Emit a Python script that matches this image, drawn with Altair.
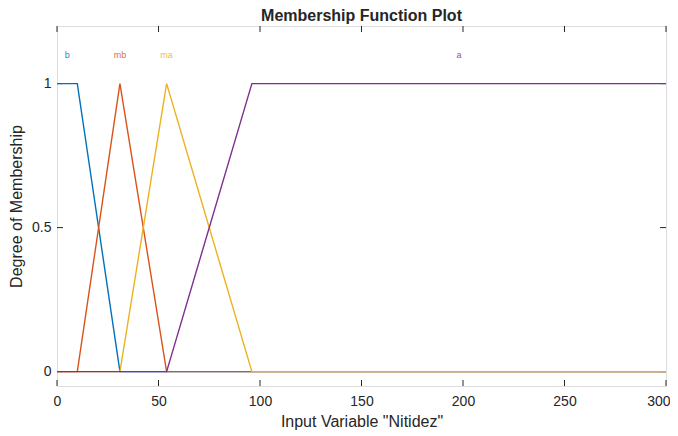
import altair as alt
import pandas as pd

# Membership functions (breakpoints)
names = ["b", "mb", "ma", "a"]
colors = ["#0072BD", "#D95319", "#EDB120", "#7E2F8E"]
xs = [
    [0, 10, 31, 300],
    [0, 10, 31, 54, 300],
    [0, 31, 54, 96, 300],
    [0, 54, 96, 300],
]
ys = [
    [1, 1, 0, 0],
    [0, 0, 1, 0, 0],
    [0, 0, 1, 0, 0],
    [0, 0, 1, 1],
]
label_x = [5, 31, 54, 198]
label_y = [1.1, 1.1, 1.1, 1.1]
x_ticks = [0, 50, 100, 150, 200, 250, 300]
y_ticks = [0, 0.5, 1]

W, H = 609, 360
FONT = "Liberation Sans"
AX = "#262626"
TL = 6

xscale = alt.Scale(domain=[0, 300], nice=False, zero=False)
yscale = alt.Scale(domain=[-0.05, 1.2], nice=False, zero=False)

xaxis = alt.Axis(values=x_ticks, tickSize=0, domain=False, grid=False,
                 labelPadding=8, labelFont=FONT, labelFontSize=14,
                 labelColor=AX, title='Input Variable "Nitidez"',
                 titleFont=FONT, titleFontSize=16, titleFontWeight="normal",
                 titleColor=AX, titlePadding=5, labelFlush=True,
                 labelFlushOffset=4)
yaxis = alt.Axis(values=y_ticks, tickSize=0, domain=False, grid=False,
                 format=".1~f", labelPadding=6, labelFont=FONT,
                 labelFontSize=14, labelColor=AX,
                 title="Degree of Membership", titleFont=FONT,
                 titleFontSize=16, titleFontWeight="normal", titleColor=AX,
                 titlePadding=7, labelFlush=False)

layers = []
for n, c, xv, yv in zip(names, colors, xs, ys):
    df = pd.DataFrame({"x": xv, "y": yv})
    layers.append(
        alt.Chart(df).mark_line(color=c, strokeWidth=1.4, clip=True).encode(
            x=alt.X("x:Q", scale=xscale, axis=xaxis),
            y=alt.Y("y:Q", scale=yscale, axis=yaxis),
        )
    )

lab_df = pd.DataFrame({"x": label_x, "y": label_y, "name": names, "c": colors})
labels = alt.Chart(lab_df).mark_text(font=FONT, fontSize=9, opacity=0.85).encode(
    x=alt.X("x:Q", scale=xscale, axis=xaxis),
    y=alt.Y("y:Q", scale=yscale, axis=yaxis),
    text="name:N",
    color=alt.Color("c:N", scale=None),
)

xt = pd.DataFrame({"x": x_ticks})
yt = pd.DataFrame({"y": y_ticks})
tick_bottom = alt.Chart(xt).mark_rule(color=AX, strokeWidth=1).encode(
    x=alt.X("x:Q", scale=xscale, axis=xaxis), y=alt.value(H), y2=alt.value(H - TL))
tick_top = alt.Chart(xt).mark_rule(color=AX, strokeWidth=1).encode(
    x=alt.X("x:Q", scale=xscale, axis=xaxis), y=alt.value(0), y2=alt.value(TL))
tick_left = alt.Chart(yt).mark_rule(color=AX, strokeWidth=1).encode(
    y=alt.Y("y:Q", scale=yscale, axis=yaxis), x=alt.value(0), x2=alt.value(TL))
tick_right = alt.Chart(yt).mark_rule(color=AX, strokeWidth=1).encode(
    y=alt.Y("y:Q", scale=yscale, axis=yaxis), x=alt.value(W - TL), x2=alt.value(W))

chart = alt.layer(
    tick_bottom, tick_top, tick_left, tick_right, *layers, labels
).properties(
    width=W, height=H,
    title=alt.TitleParams("Membership Function Plot", font=FONT, fontSize=16,
                          fontWeight="bold", color=AX, anchor="middle",
                          offset=2),
    autosize=alt.AutoSizeParams(type="none"),
    padding={"left": 49, "top": 18, "right": 4, "bottom": 44},
).configure_view(stroke=AX, strokeWidth=1).configure(background="white")

chart.save("out.html", embed_options={"renderer": "svg", "actions": False})
